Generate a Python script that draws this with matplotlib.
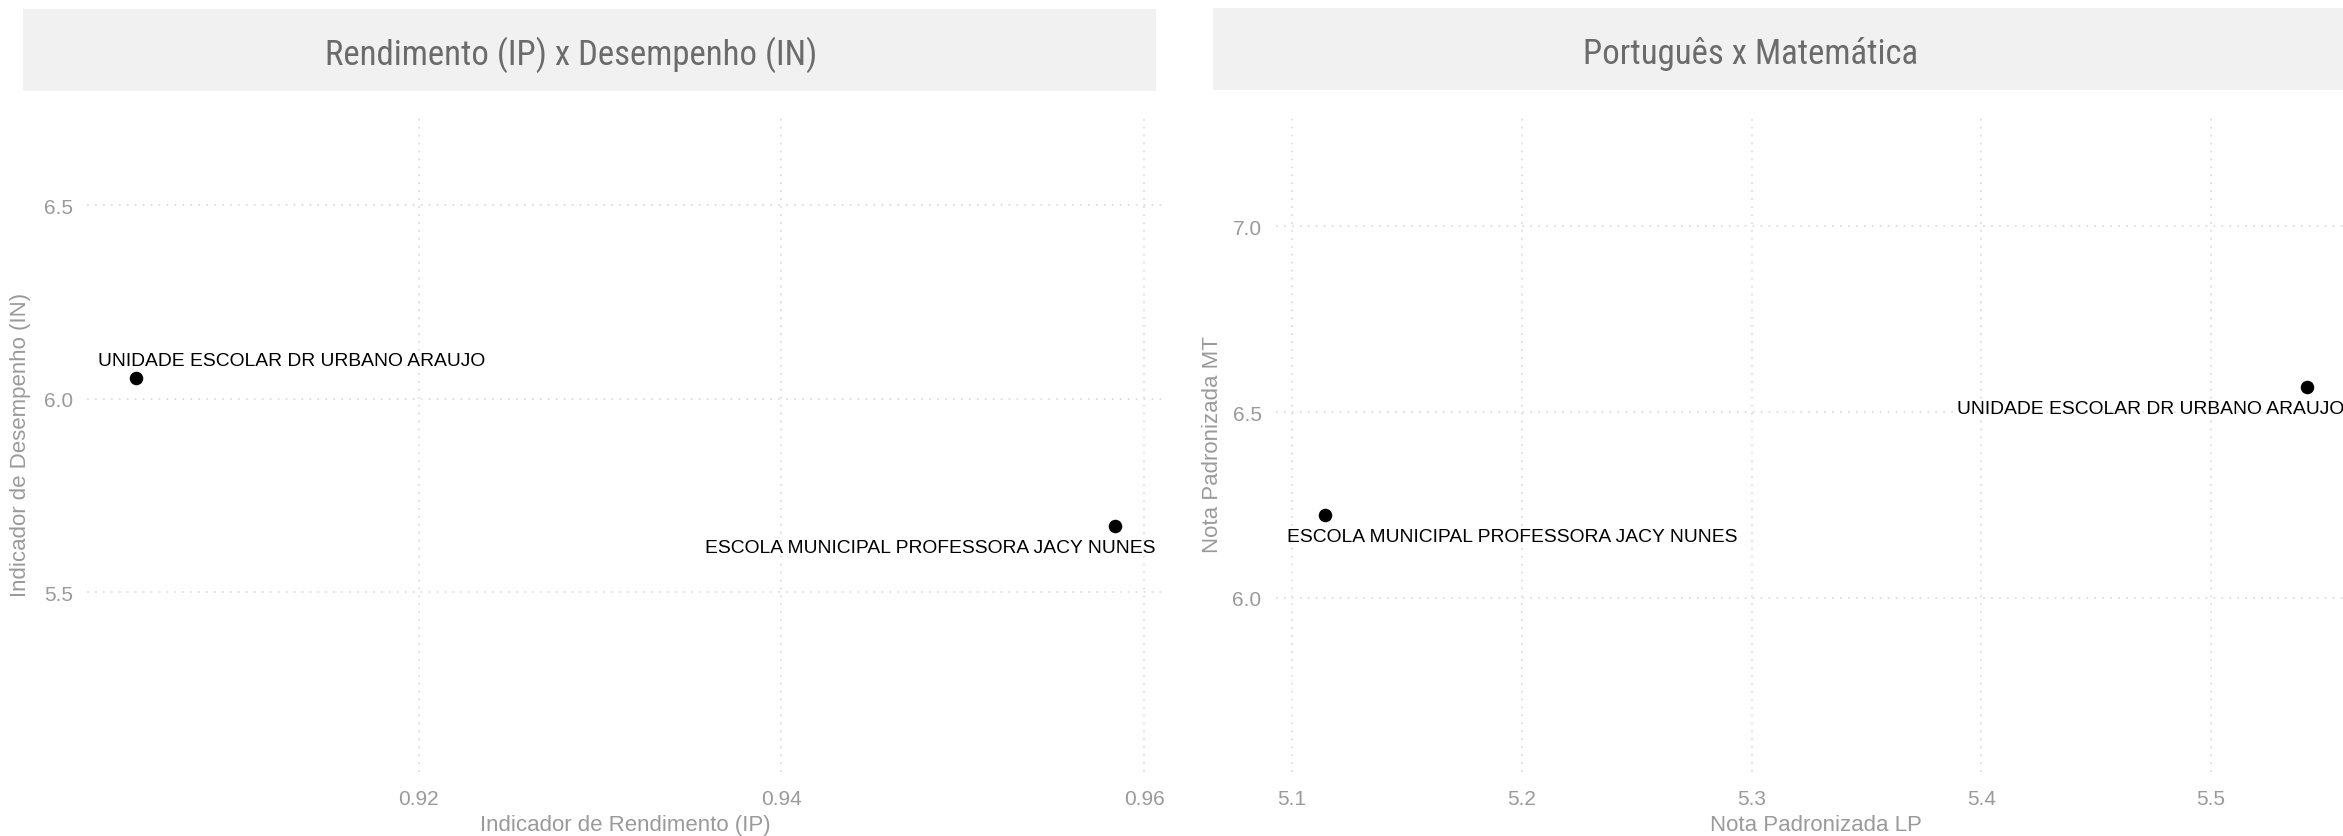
import matplotlib
matplotlib.use("Agg")
import matplotlib.pyplot as plt
from matplotlib import font_manager
from matplotlib.patches import Rectangle

# Data
escolas = ["UNIDADE ESCOLAR DR URBANO ARAUJO", "ESCOLA MUNICIPAL PROFESSORA JACY NUNES"]
ip = [0.9044, 0.9584]        # Indicador de Rendimento
ind = [6.054, 5.671]         # Indicador de Desempenho
nota_lp = [5.5417, 5.1142]   # Nota Padronizada LP
nota_mt = [6.566, 6.224]     # Nota Padronizada MT

left_xticks = [0.92, 0.94, 0.96]
left_yticks = [5.5, 6.0, 6.5]
right_xticks = [5.1, 5.2, 5.3, 5.4, 5.5]
right_yticks = [6.0, 6.5, 7.0]

W, H = 2343, 837
FONT = "Liberation Sans"
TICK_COL = "#9a9a9a"
GRID_COL = "#d9d9d9"
LBL_SIZE = 13.9

names = {f.name for f in font_manager.fontManager.ttflist}
cond = None
for cand in ["Roboto Condensed", "Liberation Sans Narrow", "Open Sans Condensed", "DejaVu Sans Condensed"]:
    if cand in names:
        cond = cand
        break

plt.rcParams["font.family"] = [FONT, "DejaVu Sans"]

fig = plt.figure(figsize=(W / 100, H / 100), dpi=100)


def px_axes(x0, x1, y0, y1):
    # pixel box (from top-left) -> figure fraction
    return fig.add_axes([x0 / W, 1 - y1 / H, (x1 - x0) / W, (y1 - y0) / H])


def style(ax, xt, yt, fmt_x, fmt_y):
    for s in ax.spines.values():
        s.set_visible(False)
    ax.set_xticks(xt)
    ax.set_yticks(yt)
    ax.set_xticklabels([fmt_x.format(v) for v in xt])
    ax.set_yticklabels([fmt_y.format(v) for v in yt])
    ax.tick_params(length=0, labelsize=15, labelcolor=TICK_COL)
    ax.tick_params(axis="y", pad=10)
    ax.tick_params(axis="x", pad=12)
    ax.grid(True, color=GRID_COL, linestyle=(0, (1.2, 4)), linewidth=1.1)
    ax.set_axisbelow(True)


def strip(x0, x1, y0, y1, title, cx, base):
    fig.patches.append(Rectangle((x0 / W, 1 - y1 / H), (x1 - x0) / W, (y1 - y0) / H,
                                 transform=fig.transFigure, facecolor="#f1f1f1",
                                 edgecolor="none", zorder=0))
    kw = dict(fontsize=25, color="#6b6b6b", ha="center", va="baseline")
    if cond:
        kw["family"] = [cond, "DejaVu Sans"]
    else:
        kw["fontstretch"] = "condensed"
    fig.text(cx / W, 1 - base / H, title, **kw)


def axis_titles(ax, xlabel, ylabel, ylab_x, x0, x1):
    ax.set_xlabel(xlabel, fontsize=16, color=TICK_COL)
    ax.set_ylabel(ylabel, fontsize=16, color=TICK_COL)
    ax.xaxis.set_label_coords(0.5, -(826 - 773) / 656)
    ax.xaxis.label.set_va("center")
    ax.yaxis.set_label_coords((ylab_x - x0) / (x1 - x0), 0.5)
    ax.yaxis.label.set_va("center")


# Left panel: Rendimento x Desempenho
strip(23, 1156, 10, 92, "Rendimento (IP) x Desempenho (IN)", 571, 65)
ax1 = px_axes(87, 1164, 117, 773)
ax1.scatter(ip, ind, s=95, color="black", zorder=3, linewidths=0)
ax1.set_xlim(0.9017, 0.9611)
ax1.set_ylim(5.035, 6.73)
style(ax1, left_xticks, left_yticks, "{:.2f}", "{:.1f}")
ax1.annotate(escolas[0], (ip[0], ind[0]), xytext=(-27, 9), textcoords="offset points",
             ha="left", va="baseline", fontsize=LBL_SIZE, color="black")
ax1.annotate(escolas[1], (ip[1], ind[1]), xytext=(29, -19), textcoords="offset points",
             ha="right", va="baseline", fontsize=LBL_SIZE, color="black")
axis_titles(ax1, "Indicador de Rendimento (IP)", "Indicador de Desempenho (IN)", 21, 87, 1164)

# Right panel: Português x Matemática
strip(1213, 2360, 9, 91, "Português x Matemática", 1751, 64)
ax2 = px_axes(1275.5, 2355.7, 117, 773)
ax2.scatter(nota_lp, nota_mt, s=95, color="black", zorder=3, linewidths=0)
ax2.set_xlim(5.0928, 5.5630)
ax2.set_ylim(5.532, 7.296)
style(ax2, right_xticks, right_yticks, "{:.1f}", "{:.1f}")
ax2.annotate(escolas[0], (nota_lp[0], nota_mt[0]), xytext=(27, -18.5), textcoords="offset points",
             ha="right", va="baseline", fontsize=LBL_SIZE, color="black")
ax2.annotate(escolas[1], (nota_lp[1], nota_mt[1]), xytext=(-27, -19), textcoords="offset points",
             ha="left", va="baseline", fontsize=LBL_SIZE, color="black")
axis_titles(ax2, "Nota Padronizada LP", "Nota Padronizada MT", 1212.5, 1275.5, 2355.7)

fig.savefig("out.png", dpi=100)
